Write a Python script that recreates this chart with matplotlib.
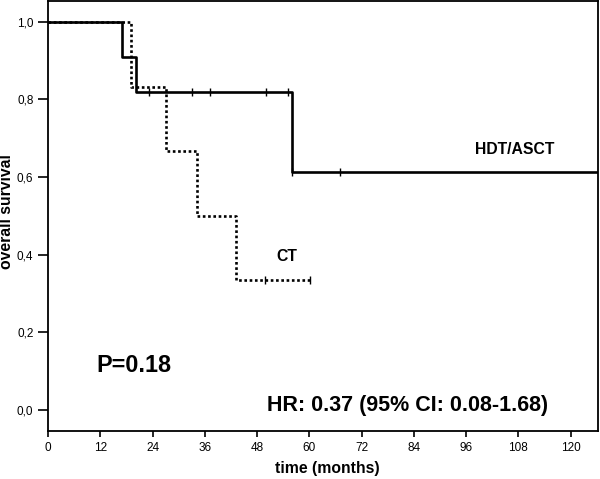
import matplotlib.pyplot as plt
import numpy as np

plt.rcParams['font.family'] = ['Liberation Sans', 'DejaVu Sans']

# Kaplan-Meier step data (time in months, survival)
hdt_times = [0, 17.0, 20.1, 56.1]
hdt_surv = [1.0, 0.909, 0.818, 0.614]
hdt_end = 126.3
hdt_censor_t = [23.2, 33.1, 37.1, 50.1, 55.1, 56.1, 67.0]
hdt_censor_s = [0.818, 0.818, 0.818, 0.818, 0.818, 0.614, 0.614]

ct_times = [0, 19.1, 27.1, 34.1, 43.1]
ct_surv = [1.0, 0.833, 0.667, 0.5, 0.333]
ct_end = 60.2
ct_censor_t = [49.9, 60.2]
ct_censor_s = [0.333, 0.333]

xticks = [0, 12, 24, 36, 48, 60, 72, 84, 96, 108, 120]
yticks = [0.0, 0.2, 0.4, 0.6, 0.8, 1.0]
ytick_labels = ['0,0', '0,2', '0,4', '0,6', '0,8', '1,0']


def step_xy(times, surv, end):
    xs = list(times) + [end]
    ys = list(surv) + [surv[-1]]
    return xs, ys


fig = plt.figure(figsize=(6.0, 4.79), dpi=100)
ax = fig.add_axes([0.080, 0.100, 0.9167, 0.898])

x, y = step_xy(hdt_times, hdt_surv, hdt_end)
ax.step(x, y, where='post', color='black', lw=1.9)
ax.plot(hdt_censor_t, hdt_censor_s, ls='none', marker='|', ms=6, mew=1.0, color='black')

x, y = step_xy(ct_times, ct_surv, ct_end)
ax.step(x, y, where='post', color='black', lw=1.9, ls=(0, (1, 1)))
ax.plot(ct_censor_t, ct_censor_s, ls='none', marker='|', ms=6, mew=1.0, color='black')

ax.text(107.2, 0.670, 'HDT/ASCT', fontsize=11.3, fontweight='bold', ha='center', va='center')
ax.text(54.8, 0.394, 'CT', fontsize=11.3, fontweight='bold', ha='center', va='center')
ax.text(11.0, 0.113, 'P=0.18', fontsize=16.8, fontweight='bold', ha='left', va='center')
ax.text(82.6, 0.011, 'HR: 0.37 (95% CI: 0.08-1.68)', fontsize=15.5, fontweight='bold',
        ha='center', va='center')

ax.set_xlim(0, 126.3)
ax.set_ylim(-0.0555, 1.054)
ax.set_xticks(xticks)
ax.set_yticks(yticks)
ax.set_yticklabels(ytick_labels)
ax.tick_params(axis='x', direction='out', length=4, width=1.2, labelsize=8.5, pad=4)
ax.tick_params(axis='y', direction='out', length=7, width=1.2, labelsize=8.5, pad=3.5)
for sp in ax.spines.values():
    sp.set_linewidth(1.3)

fig.text(327.5 / 600, 1 - 469 / 479, 'time (months)', fontsize=11.3,
         fontweight='bold', ha='center', va='center')
fig.text(6.5 / 600, 1 - 212 / 479, 'overall survival', fontsize=11.3,
         fontweight='bold', ha='center', va='center', rotation=90)

fig.savefig('out.png', dpi=100)
